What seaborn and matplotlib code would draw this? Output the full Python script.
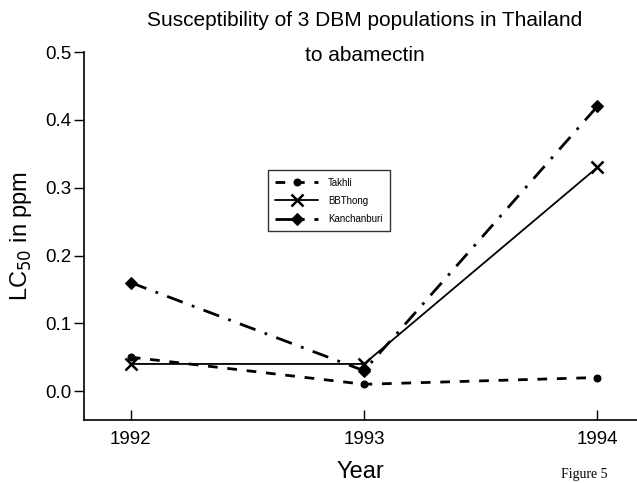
import matplotlib
matplotlib.use("Agg")
import matplotlib.pyplot as plt
import seaborn as sns
import pandas as pd

years = [1992, 1993, 1994]
takhli = [0.05, 0.01, 0.02]
bbthong = [0.04, 0.04, 0.33]
kanchanburi = [0.16, 0.03, 0.42]
yticks = [0.0, 0.1, 0.2, 0.3, 0.4, 0.5]

sns.set_theme(style="ticks", rc={"text.color": "black",
                                 "axes.labelcolor": "black",
                                 "xtick.color": "black",
                                 "ytick.color": "black"})
plt.rcParams["font.family"] = ["Liberation Sans", "DejaVu Sans"]

fig = plt.figure(figsize=(6.37, 4.83), dpi=100)
ax = fig.add_axes([0.132, 0.130, 0.868, 0.762])

df = pd.DataFrame({"Year": years, "Takhli": takhli,
                   "BBThong": bbthong, "Kanchanburi": kanchanburi})

sns.lineplot(data=df, x="Year", y="Takhli", ax=ax, color="black",
             linewidth=2.0, linestyle=(0, (3.5, 3.5)),
             marker="o", markersize=5, markeredgecolor="black",
             label="Takhli")
sns.lineplot(data=df, x="Year", y="BBThong", ax=ax, color="black",
             linewidth=1.3, linestyle="-", marker="x", markersize=9,
             markeredgewidth=1.8, markeredgecolor="black", label="BBThong")
sns.lineplot(data=df, x="Year", y="Kanchanburi", ax=ax, color="black",
             linewidth=2.0, linestyle=(0, (6, 3.5, 1, 3.5)),
             marker="D", markersize=6, markeredgecolor="black",
             label="Kanchanburi")

ax.set_xlim(1991.80, 1994.17)
ax.set_ylim(-0.043, 0.5)
ax.set_xticks(years)
ax.set_xticklabels([str(y) for y in years])
ax.set_yticks(yticks)
ax.set_yticklabels([f"{v:.1f}" for v in yticks])

for side in ["top", "right"]:
    ax.spines[side].set_visible(False)
for side in ["left", "bottom"]:
    ax.spines[side].set_color("black")
    ax.spines[side].set_linewidth(1.2)

ax.tick_params(axis="y", direction="out", length=7, width=1,
               labelsize=13.5, pad=2)
ax.tick_params(axis="x", direction="in", length=7, width=1,
               labelsize=13.5, pad=8)

ax.set_xlabel("Year", fontsize=17, labelpad=9)
ax.set_ylabel(r"LC$_{50}$ in ppm", fontsize=17, labelpad=8)

fig.text(0.573, 0.958, "Susceptibility of 3 DBM populations in Thailand",
         ha="center", va="center", fontsize=15)
fig.text(0.573, 0.886, "to abamectin", ha="center", va="center", fontsize=15)

leg = ax.legend(loc="upper left", bbox_to_anchor=(0.333, 0.679),
                borderaxespad=0, fontsize=7, handlelength=4.4,
                labelspacing=0.85, frameon=True, fancybox=False,
                borderpad=0.75, handletextpad=1.0)
leg.get_frame().set_edgecolor("black")
leg.get_frame().set_linewidth(1.0)

fig.text(0.880, 0.004, "Figure 5", ha="left", va="bottom", fontsize=10,
         family=["Liberation Serif", "DejaVu Serif"])

fig.savefig("out.png", dpi=100)
